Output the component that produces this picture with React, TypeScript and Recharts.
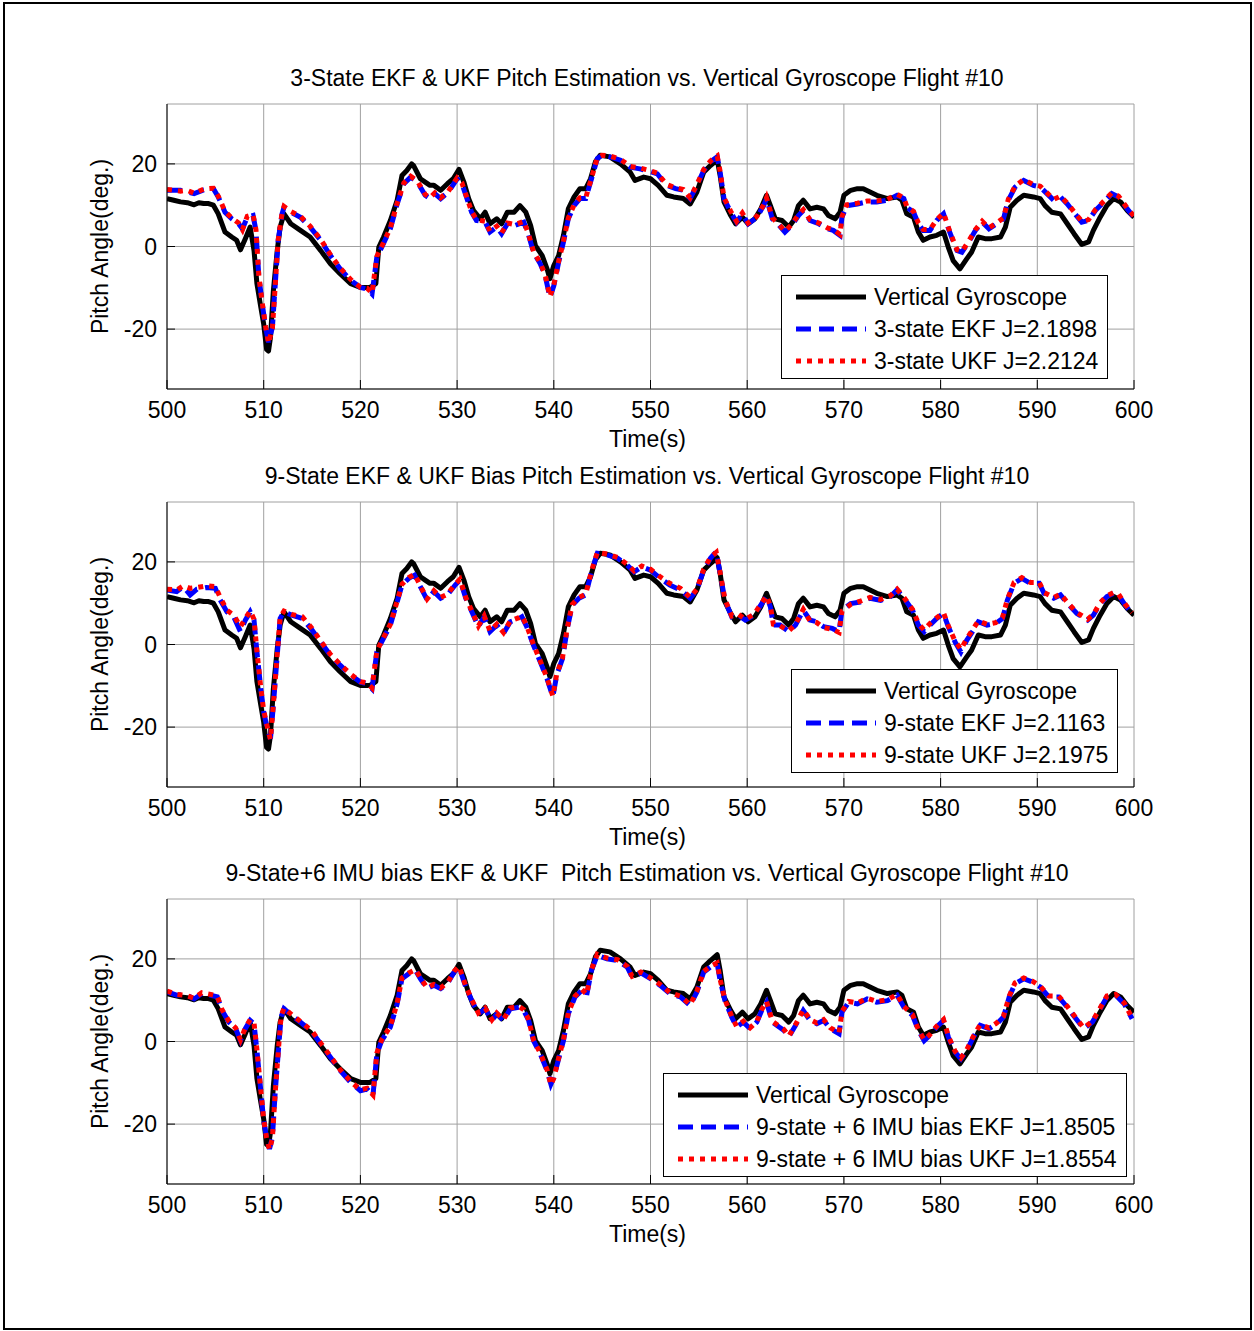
import React from "react";
import { LineChart, Line, XAxis, YAxis, CartesianGrid } from "recharts";

const FONT = '"Liberation Sans", Arial, Helvetica, sans-serif';

const timeTicks = [500, 510, 520, 530, 540, 550, 560, 570, 580, 590, 600];
const pitchTicks = [-20, 0, 20];
const pitchDomain: [number, number] = [-34.5, 34.5];

// vertical gyroscope reference (same trace in all three panels)
const gyroTime = [
  500, 500.7, 501.4, 502.1, 502.8, 503.3, 503.8, 504.3, 504.8, 505.3,
  506.0, 506.7, 507.2, 507.6, 508.1, 508.6, 509.0, 509.3, 509.7, 510.0,
  510.3, 510.5, 510.7, 511.0, 511.4, 511.7, 512.1, 512.8, 513.8, 514.8,
  515.9, 516.9, 517.9, 519.0, 520.0, 521.0, 521.6, 521.9, 522.4, 523.1,
  523.8, 524.3, 524.8, 525.3, 525.5, 526.2, 526.7, 527.2, 527.6, 528.3,
  529.0, 529.6, 530.2, 530.7, 531.2, 531.7, 532.4, 532.9, 533.4, 534.1,
  534.6, 535.2, 535.9, 536.5, 537.1, 537.6, 538.1, 538.8, 539.3, 539.6,
  540.0, 540.5, 541.0, 541.5, 542.1, 542.7, 543.3, 543.8, 544.3, 544.8,
  545.8, 546.9, 547.9, 548.4, 549.3, 550.0, 550.8, 551.7, 552.4, 553.4,
  554.1, 554.8, 555.5, 556.2, 556.9, 557.2, 557.6, 558.3, 558.8, 559.5,
  560.1, 560.8, 561.4, 562.0, 562.4, 562.9, 563.6, 564.3, 564.8, 565.3,
  565.8, 566.5, 567.2, 567.9, 568.4, 569.1, 569.6, 570.0, 570.7, 571.4,
  572.0, 572.7, 573.4, 574.5, 575.5, 576.0, 576.5, 577.2, 577.7, 578.2,
  578.9, 579.6, 580.3, 580.8, 581.3, 582.0, 582.7, 583.2, 583.9, 584.6,
  585.3, 586.2, 586.7, 587.2, 587.9, 588.6, 589.6, 590.3, 590.8, 591.5,
  592.4, 593.1, 593.8, 594.6, 595.3, 595.8, 596.5, 597.2, 597.9, 598.6,
  599.3, 600,
];
const gyroPitch = [
  11.6, 11.2, 10.8, 10.6, 10.1, 10.6, 10.4, 10.4, 10.0, 7.9,
  3.5, 2.3, 1.5, -0.8, 1.9, 4.7, -1.0, -9.0, -14.7, -18.8,
  -24.9, -25.3, -22.0, -10.7, -1.0, 4.7, 7.9, 5.5, 3.9, 2.3,
  -1.0, -4.2, -6.6, -9.0, -9.9, -9.9, -9.0, -0.2, 2.3, 6.3,
  11.2, 17.2, 18.4, 20.0, 19.6, 16.4, 15.6, 14.8, 14.8, 13.6,
  15.2, 16.4, 18.7, 15.6, 11.6, 8.7, 6.7, 8.3, 5.5, 6.7,
  5.5, 8.3, 8.3, 9.9, 8.3, 5.1, 0.2, -2.2, -5.4, -7.8,
  -4.6, -2.2, 2.7, 9.1, 12.0, 14.0, 14.0, 16.4, 20.5, 22.1,
  21.7, 20.0, 18.0, 16.0, 16.8, 16.4, 14.8, 12.4, 12.0, 11.6,
  10.3, 13.2, 18.0, 19.6, 21.0, 17.2, 10.8, 7.5, 5.5, 7.1,
  5.5, 6.7, 9.1, 12.4, 9.9, 6.7, 6.3, 4.7, 6.3, 9.9,
  11.2, 9.1, 9.5, 9.1, 7.5, 6.7, 8.3, 12.4, 13.6, 14.0,
  14.0, 13.2, 12.4, 11.6, 12.0, 11.2, 7.9, 7.1, 3.5, 1.5,
  2.3, 2.7, 3.5, -0.2, -3.4, -5.4, -3.0, -1.4, 2.3, 1.9,
  1.9, 2.3, 4.7, 9.5, 11.2, 12.4, 12.0, 11.6, 9.9, 8.3,
  7.9, 5.5, 3.1, 0.5, 1.1, 3.9, 7.1, 9.9, 11.6, 10.8,
  8.7, 7.1,
];

// panel 1: 3-state filters
const state3Time = [
  500, 501.4, 502.1, 502.8, 503.8, 504.8, 505.3, 506.0, 506.7, 507.4,
  507.8, 508.3, 508.9, 509.2, 509.5, 509.9, 510.2, 510.5, 510.9, 511.2,
  511.5, 511.9, 512.1, 512.8, 513.8, 514.8, 515.9, 516.9, 517.9, 519.0,
  520.0, 520.7, 521.2, 521.7, 522.2, 523.1, 523.8, 524.5, 525.2, 525.9,
  526.7, 527.2, 527.7, 528.3, 529.1, 530.0, 530.5, 530.9, 531.5, 532.0,
  532.9, 533.4, 534.1, 534.6, 535.2, 536.0, 536.9, 537.4, 537.9, 538.6,
  539.1, 539.6, 540.0, 540.5, 541.0, 541.5, 542.1, 542.7, 543.3, 543.8,
  544.5, 545.0, 545.8, 546.9, 547.9, 548.9, 549.6, 550.7, 551.1, 551.7,
  552.6, 553.4, 554.1, 554.8, 555.5, 556.2, 556.9, 557.2, 557.6, 558.3,
  558.9, 559.5, 560.1, 561.0, 561.7, 562.0, 562.6, 563.3, 563.9, 564.6,
  565.3, 565.8, 566.5, 567.4, 568.3, 568.9, 569.6, 569.8, 570.3, 571.4,
  572.4, 573.4, 574.5, 575.5, 576.2, 576.5, 577.2, 577.7, 578.2, 578.9,
  579.6, 580.3, 581.0, 581.7, 582.2, 582.9, 583.6, 584.3, 585.0, 585.8,
  586.5, 587.0, 587.7, 588.6, 589.6, 590.3, 591.0, 591.7, 592.4, 593.1,
  593.9, 594.6, 595.3, 596.0, 596.9, 597.7, 598.4, 599.3, 600,
];
const ekf3Pitch = [
  13.6, 13.6, 13.2, 12.8, 13.7, 14.0, 12.0, 8.3, 6.7, 5.5,
  4.3, 7.1, 7.5, 3.9, -7.4, -14.7, -19.6, -23.2, -19.6, -9.0,
  1.5, 7.9, 9.5, 8.3, 7.1, 4.7, 1.5, -2.2, -5.4, -8.2,
  -9.9, -10.3, -11.5, -2.6, -0.2, 4.3, 10.3, 15.2, 16.8, 15.6,
  12.4, 11.6, 12.8, 11.6, 13.2, 16.4, 15.2, 12.4, 8.3, 6.3,
  5.9, 3.5, 4.7, 3.1, 5.5, 5.1, 5.9, 2.7, -1.4, -4.2,
  -7.0, -12.3, -9.5, -3.8, 1.1, 6.7, 9.9, 11.6, 11.6, 15.6,
  21.3, 22.1, 21.7, 20.9, 19.2, 18.8, 18.4, 17.6, 16.4, 14.8,
  14.0, 13.6, 11.6, 14.8, 18.4, 20.5, 21.7, 18.0, 11.6, 8.3,
  5.9, 7.9, 5.5, 7.1, 9.9, 11.6, 6.7, 5.1, 3.5, 5.1,
  7.5, 8.7, 6.3, 5.5, 4.3, 3.9, 2.7, 7.1, 9.9, 10.3,
  10.8, 10.8, 11.2, 12.4, 11.6, 9.5, 8.3, 5.5, 3.9, 3.9,
  6.3, 7.9, 3.1, -1.0, -1.4, 1.1, 3.9, 5.9, 4.3, 5.5,
  6.7, 11.2, 14.4, 16.0, 14.8, 14.4, 12.8, 11.2, 12.0, 10.3,
  7.9, 5.9, 6.3, 8.7, 10.8, 12.8, 12.0, 9.1, 7.1,
];
const ukf3Pitch = [
  13.8, 13.4, 13.6, 12.9, 13.9, 14.1, 12.2, 8.5, 6.9, 5.7,
  4.1, 7.3, 7.7, 4.1, -7.2, -14.5, -19.4, -23.4, -19.8, -9.2,
  1.7, 8.1, 9.7, 8.5, 7.3, 4.9, 1.7, -2.0, -5.2, -8.0,
  -9.9, -10.1, -11.3, -2.4, 0.0, 4.5, 10.5, 15.4, 17.0, 15.8,
  12.6, 11.8, 13.0, 11.8, 13.4, 16.6, 15.4, 12.6, 8.5, 6.5,
  6.1, 3.7, 4.9, 3.3, 5.7, 5.3, 6.1, 2.9, -1.2, -4.0,
  -6.8, -12.1, -9.3, -3.6, 1.3, 6.9, 10.1, 11.8, 11.8, 15.8,
  21.5, 22.1, 21.9, 21.1, 19.4, 19.0, 18.6, 17.8, 16.6, 15.0,
  14.2, 13.8, 11.8, 15.0, 18.6, 20.7, 21.9, 18.2, 11.8, 8.5,
  6.1, 8.1, 5.7, 7.3, 10.1, 11.8, 6.9, 5.3, 3.7, 5.3,
  7.7, 8.9, 6.5, 5.7, 4.5, 4.1, 2.9, 7.3, 10.1, 10.5,
  11.0, 11.0, 11.4, 12.6, 11.8, 9.7, 8.5, 5.7, 4.1, 4.1,
  6.5, 8.1, 3.3, -0.8, -1.2, 1.3, 4.1, 6.1, 4.5, 5.7,
  6.9, 11.4, 14.6, 16.2, 15.0, 14.6, 13.0, 11.4, 12.2, 10.5,
  8.1, 6.1, 6.5, 8.9, 11.0, 13.0, 12.2, 9.3, 7.3,
];

// panel 2: 9-state filters
const state9Time = [
  500, 501.0, 501.7, 502.4, 503.1, 504.1, 505.0, 505.5, 506.2, 506.9,
  507.6, 508.1, 508.6, 509.0, 509.3, 509.7, 510.0, 510.3, 510.7, 511.0,
  511.4, 511.7, 512.1, 512.9, 514.0, 515.0, 515.9, 516.9, 517.9, 519.0,
  520.0, 520.7, 521.2, 521.7, 522.2, 523.1, 523.8, 524.3, 525.0, 525.6,
  526.2, 526.9, 527.6, 528.3, 529.0, 529.8, 530.3, 530.9, 531.6, 532.2,
  532.8, 533.4, 534.1, 534.8, 535.5, 536.4, 536.7, 537.2, 537.9, 538.6,
  539.3, 539.9, 540.3, 540.9, 541.4, 541.9, 542.6, 543.3, 543.9, 544.5,
  545.5, 546.6, 547.6, 548.3, 549.1, 550.0, 551.0, 552.0, 553.1, 554.1,
  554.8, 555.5, 556.2, 556.8, 557.2, 557.7, 558.4, 559.1, 559.8, 560.7,
  561.4, 562.0, 562.4, 562.7, 563.4, 564.3, 565.0, 565.8, 566.5, 567.2,
  567.9, 568.8, 569.5, 569.8, 570.7, 571.7, 572.7, 573.8, 574.8, 575.5,
  576.2, 577.1, 577.7, 578.3, 578.9, 579.6, 580.3, 580.8, 581.5, 582.1,
  582.7, 583.4, 583.9, 584.8, 585.7, 586.4, 586.9, 587.6, 588.4, 589.3,
  590.2, 590.7, 591.7, 592.4, 593.3, 594.1, 595.2, 595.8, 596.5, 597.2,
  597.9, 598.4, 599.1, 599.8,
];
const ekf9Pitch = [
  13.2, 12.8, 14.0, 12.0, 13.4, 13.8, 13.6, 10.8, 7.9, 6.7,
  3.1, 5.9, 7.9, 5.9, -1.8, -10.7, -16.3, -19.6, -22.8, -14.7,
  -2.6, 6.3, 7.9, 7.1, 6.3, 3.5, 0.6, -2.6, -5.0, -7.4,
  -9.1, -9.5, -10.7, -1.8, 0.6, 4.7, 10.3, 14.4, 16.0, 16.8,
  14.0, 10.8, 12.8, 11.2, 12.0, 14.4, 15.6, 11.2, 7.5, 4.3,
  6.7, 3.1, 4.7, 2.7, 5.5, 6.3, 6.7, 4.3, -0.2, -4.2,
  -8.3, -12.7, -7.4, -3.4, 3.9, 9.5, 11.2, 12.0, 17.6, 22.1,
  21.7, 20.9, 19.2, 17.6, 18.8, 18.0, 16.0, 14.4, 13.2, 11.2,
  13.2, 18.0, 20.9, 22.5, 17.2, 10.7, 6.7, 7.1, 5.9, 7.1,
  9.5, 11.6, 9.1, 4.7, 4.7, 3.1, 4.7, 8.3, 5.9, 5.5,
  4.3, 3.9, 3.1, 8.3, 9.9, 10.3, 11.2, 10.7, 11.6, 13.2,
  11.2, 8.3, 4.7, 3.1, 4.7, 6.3, 7.5, 4.3, 0.6, -1.8,
  1.0, 3.5, 5.5, 4.7, 5.1, 6.3, 10.7, 14.8, 16.0, 14.8,
  14.8, 12.4, 11.2, 12.0, 9.5, 7.5, 5.9, 7.1, 9.9, 11.6,
  12.4, 12.0, 9.5, 7.5,
];
const ukf9Pitch = [
  13.4, 13.2, 14.2, 13.6, 13.8, 14.2, 14.0, 11.4, 8.3, 7.1,
  4.3, 6.3, 8.1, 6.1, -1.6, -10.5, -16.0, -19.2, -23.0, -14.5,
  -2.4, 6.5, 8.1, 7.3, 6.7, 3.9, 0.8, -2.4, -4.8, -7.2,
  -9.0, -9.3, -10.5, -1.6, 0.8, 4.9, 10.5, 14.6, 16.2, 17.0,
  14.2, 11.0, 13.0, 11.4, 12.2, 14.6, 15.8, 11.4, 7.7, 4.5,
  6.9, 3.3, 4.9, 2.9, 5.7, 6.5, 6.9, 4.5, 0.0, -4.0,
  -8.1, -12.5, -7.2, -3.2, 4.1, 9.7, 11.4, 12.2, 17.8, 22.3,
  21.9, 21.1, 19.4, 17.8, 19.0, 18.2, 16.4, 14.8, 13.6, 11.4,
  13.4, 18.2, 21.1, 22.3, 17.4, 10.9, 6.9, 7.3, 6.1, 7.3,
  9.7, 11.8, 9.3, 4.9, 4.5, 3.3, 4.9, 8.5, 5.7, 5.3,
  4.1, 3.7, 2.9, 8.1, 9.7, 10.5, 11.4, 10.9, 11.8, 13.4,
  11.4, 8.5, 5.1, 3.5, 5.1, 6.5, 7.7, 4.5, 0.8, -1.2,
  1.4, 3.9, 5.7, 4.9, 5.3, 6.5, 10.9, 15.0, 16.2, 15.0,
  15.0, 12.6, 11.4, 12.2, 9.7, 7.7, 6.1, 7.3, 10.1, 11.8,
  12.6, 12.2, 9.7, 7.7,
];

// panel 3: 9-state + 6 IMU bias filters
const state15Time = [
  500, 501.0, 501.9, 502.8, 503.6, 504.5, 505.2, 505.7, 506.4, 507.1,
  507.6, 508.1, 508.6, 509.0, 509.3, 509.7, 510.0, 510.3, 510.6, 510.9,
  511.2, 511.6, 511.8, 512.1, 512.9, 514.0, 515.0, 515.9, 516.9, 517.9,
  519.0, 520.0, 520.7, 521.3, 521.7, 522.2, 523.1, 523.8, 524.3, 525.0,
  525.7, 526.2, 526.9, 527.6, 528.3, 529.0, 529.7, 530.2, 530.9, 531.6,
  532.2, 532.9, 533.6, 534.1, 534.8, 535.5, 536.4, 536.9, 537.4, 537.9,
  538.6, 539.3, 539.7, 540.0, 540.5, 541.0, 541.5, 542.2, 542.9, 543.4,
  543.9, 544.5, 545.5, 546.6, 547.6, 548.1, 549.0, 550.0, 551.0, 552.0,
  553.1, 554.1, 554.8, 555.5, 556.2, 556.9, 557.2, 557.7, 558.4, 558.9,
  559.6, 560.3, 561.0, 561.5, 562.0, 562.6, 563.3, 563.8, 564.3, 565.0,
  565.8, 566.5, 567.2, 567.9, 568.6, 569.5, 569.8, 570.5, 571.4, 572.4,
  573.4, 574.5, 575.5, 576.2, 577.1, 577.7, 578.3, 578.9, 579.6, 580.3,
  580.8, 581.5, 582.1, 582.7, 583.4, 584.1, 585.0, 585.8, 586.5, 587.1,
  587.7, 588.6, 589.5, 590.3, 591.2, 592.2, 593.1, 594.0, 594.8, 595.7,
  596.5, 597.2, 598.1, 599.0, 599.8,
];
const ekf15Pitch = [
  12.0, 11.2, 11.4, 10.3, 11.6, 11.2, 10.8, 7.5, 4.7, 3.1,
  0.2, 3.1, 5.1, 4.3, -2.2, -11.9, -19.2, -23.2, -26.0, -23.2,
  -11.9, 0.2, 5.9, 7.9, 6.3, 4.3, 2.3, -0.6, -3.8, -7.0,
  -9.9, -11.9, -11.5, -13.1, -3.0, 0.2, 3.5, 9.1, 15.2, 16.4,
  17.2, 15.2, 12.8, 13.6, 12.8, 14.0, 16.8, 18.0, 13.2, 9.5,
  6.7, 7.9, 5.1, 6.7, 5.1, 7.9, 8.3, 7.5, 5.1, 0.2,
  -3.0, -7.0, -10.3, -8.7, -4.2, 0.2, 6.7, 10.8, 12.4, 11.2,
  17.2, 20.9, 20.0, 19.6, 18.0, 15.6, 16.6, 15.2, 13.6, 11.6,
  10.8, 8.7, 12.0, 16.8, 18.0, 18.8, 14.8, 9.9, 5.9, 3.5,
  4.7, 3.1, 4.7, 7.5, 9.5, 4.7, 3.5, 2.7, 1.1, 3.9,
  7.5, 5.1, 4.3, 5.1, 3.1, 1.9, 7.1, 9.5, 9.1, 10.3,
  9.5, 9.9, 11.2, 8.3, 6.3, 2.7, 0.2, 1.5, 3.5, 5.1,
  1.1, -2.6, -4.2, -2.2, 1.1, 3.9, 3.1, 4.3, 5.9, 10.8,
  14.0, 15.2, 14.4, 13.2, 10.8, 10.8, 8.3, 5.5, 3.1, 4.7,
  7.9, 10.8, 11.2, 9.1, 5.5,
];
const ukf15Pitch = [
  12.2, 11.4, 11.2, 10.5, 11.8, 11.4, 11.0, 7.7, 4.9, 3.3,
  0.4, 3.3, 5.3, 4.5, -2.0, -11.7, -19.0, -23.4, -26.2, -23.4,
  -12.1, 0.4, 6.1, 8.1, 6.5, 4.5, 2.5, -0.4, -3.6, -6.8,
  -9.7, -11.7, -11.3, -12.9, -2.8, 0.4, 3.7, 9.3, 15.4, 16.6,
  17.4, 15.4, 13.0, 13.8, 13.0, 14.2, 17.0, 18.2, 13.4, 9.7,
  6.9, 8.1, 5.3, 6.9, 5.3, 8.1, 8.5, 7.7, 5.3, 0.4,
  -2.8, -6.8, -10.5, -8.9, -4.0, 0.4, 6.9, 11.0, 12.6, 11.4,
  17.4, 21.1, 20.2, 19.8, 18.2, 15.8, 16.8, 15.4, 13.8, 11.8,
  11.0, 8.9, 12.2, 17.0, 18.2, 19.0, 15.0, 10.1, 6.1, 3.7,
  4.9, 3.3, 4.9, 7.7, 9.7, 4.9, 3.7, 2.9, 1.3, 4.1,
  7.7, 5.3, 4.5, 5.3, 3.3, 2.1, 7.3, 9.7, 9.3, 10.5,
  9.7, 10.1, 11.4, 8.5, 6.5, 2.9, 0.4, 1.7, 3.7, 5.3,
  1.3, -2.4, -4.0, -2.0, 1.3, 4.1, 3.3, 4.5, 6.1, 11.0,
  14.2, 15.4, 14.6, 13.4, 11.0, 11.0, 8.5, 5.7, 3.3, 4.9,
  8.1, 11.0, 11.4, 9.3, 5.7,
];

const panelTitles = [
  "3-State EKF & UKF Pitch Estimation vs. Vertical Gyroscope Flight #10",
  "9-State EKF & UKF Bias Pitch Estimation vs. Vertical Gyroscope Flight #10",
  "9-State+6 IMU bias EKF & UKF  Pitch Estimation vs. Vertical Gyroscope Flight #10",
];
const gyroName = "Vertical Gyroscope";
const ekfNames = ["3-state EKF J=2.1898", "9-state EKF J=2.1163", "9-state + 6 IMU bias EKF J=1.8505"];
const ukfNames = ["3-state UKF J=2.2124", "9-state UKF J=2.1975", "9-state + 6 IMU bias UKF J=1.8554"];

const GYRO = { stroke: "#000000", dash: undefined as string | undefined };
const EKF = { stroke: "#0000ff", dash: "15 8" };
const UKF = { stroke: "#ff0000", dash: "5 6" };
const LINE_W = 5;

const toPoints = (time: number[], pitch: number[]) =>
  time.map((t, i) => ({ t, pitch: pitch[i] }));

const gyroPoints = toPoints(gyroTime, gyroPitch);

type PanelProps = {
  top: number;
  title: string;
  time: number[];
  ekf: number[];
  ukf: number[];
  ekfName: string;
  ukfName: string;
  legendLeft: number;
  legendTop: number;
};

const textStyle = { fill: "#000", fontSize: 23, fontFamily: FONT };

function LegendBox({ left, top, items }: { left: number; top: number; items: { name: string; stroke: string; dash?: string }[] }) {
  return (
    <div
      style={{
        position: "absolute",
        left,
        top,
        border: "1px solid #000",
        background: "#fff",
        padding: "5px 9px 1px 14px",
        fontFamily: FONT,
        fontSize: 23,
        whiteSpace: "nowrap",
      }}
    >
      {items.map((it) => (
        <div key={it.name} style={{ display: "flex", alignItems: "center", height: 32 }}>
          <svg width={70} height={10} style={{ marginRight: 8, flex: "none" }}>
            <line x1={0} y1={5} x2={70} y2={5} stroke={it.stroke} strokeWidth={LINE_W} strokeDasharray={it.dash} />
          </svg>
          <span>{it.name}</span>
        </div>
      ))}
    </div>
  );
}

function PitchPanel(p: PanelProps) {
  return (
    <div style={{ position: "absolute", left: 0, top: p.top, width: 1254, height: 460 }}>
      <div
        style={{
          position: "absolute",
          left: 0,
          top: 65,
          width: 1294,
          textAlign: "center",
          fontFamily: FONT,
          fontSize: 23,
          lineHeight: "26px",
          whiteSpace: "pre",
          color: "#000",
        }}
      >
        {p.title}
      </div>
      <LineChart width={1254} height={460} margin={{ top: 104, right: 120, bottom: 31, left: 0 }}>
        <CartesianGrid stroke="#a0a0a0" strokeWidth={1} />
        <XAxis
          dataKey="t"
          type="number"
          domain={[500, 600]}
          ticks={timeTicks}
          allowDataOverflow
          height={40}
          tickSize={-9}
          tickMargin={22}
          stroke="#000"
          tick={textStyle}
          label={{ value: "Time(s)", position: "bottom", offset: 2, dx: -3, ...textStyle }}
        />
        <XAxis
          xAxisId="top"
          orientation="top"
          dataKey="t"
          type="number"
          domain={[500, 600]}
          ticks={timeTicks}
          height={0}
          tickSize={-9}
          tickFormatter={() => ""}
          stroke="#000"
        />
        <YAxis
          type="number"
          domain={pitchDomain}
          ticks={pitchTicks}
          allowDataOverflow
          width={167}
          tickSize={-8}
          tickMargin={18}
          stroke="#000"
          tick={textStyle}
          label={{
            value: "Pitch Angle(deg.)",
            angle: -90,
            position: "insideLeft",
            offset: 100,
            ...textStyle,
            style: { textAnchor: "middle" },
          }}
        />
        <YAxis
          yAxisId="right"
          orientation="right"
          type="number"
          domain={pitchDomain}
          ticks={pitchTicks}
          width={0}
          tickSize={-8}
          tickFormatter={() => ""}
          stroke="#000"
        />
        <Line
          data={gyroPoints}
          dataKey="pitch"
          type="linear"
          stroke={GYRO.stroke}
          strokeWidth={LINE_W}
          strokeLinejoin="round"
          dot={false}
          isAnimationActive={false}
        />
        <Line
          data={toPoints(p.time, p.ekf)}
          dataKey="pitch"
          type="linear"
          stroke={EKF.stroke}
          strokeWidth={LINE_W}
          strokeDasharray={EKF.dash}
          dot={false}
          isAnimationActive={false}
        />
        <Line
          data={toPoints(p.time, p.ukf)}
          dataKey="pitch"
          type="linear"
          stroke={UKF.stroke}
          strokeWidth={LINE_W}
          strokeDasharray={UKF.dash}
          dot={false}
          isAnimationActive={false}
        />
      </LineChart>
      <LegendBox
        left={p.legendLeft}
        top={p.legendTop}
        items={[
          { name: gyroName, ...GYRO },
          { name: p.ekfName, ...EKF },
          { name: p.ukfName, ...UKF },
        ]}
      />
    </div>
  );
}

export default function App() {
  return (
    <div style={{ position: "absolute", left: 0, top: 0, width: 1254, height: 1331, background: "#fff", fontFamily: FONT }}>
      <div
        style={{
          position: "absolute",
          left: 3,
          top: 2,
          width: 1249,
          height: 1328,
          boxSizing: "border-box",
          border: "2px solid #000",
        }}
      />
      <PitchPanel
        top={0}
        title={panelTitles[0]}
        time={state3Time}
        ekf={ekf3Pitch}
        ukf={ukf3Pitch}
        ekfName={ekfNames[0]}
        ukfName={ukfNames[0]}
        legendLeft={781}
        legendTop={275}
      />
      <PitchPanel
        top={398}
        title={panelTitles[1]}
        time={state9Time}
        ekf={ekf9Pitch}
        ukf={ukf9Pitch}
        ekfName={ekfNames[1]}
        ukfName={ukfNames[1]}
        legendLeft={791}
        legendTop={271}
      />
      <PitchPanel
        top={795}
        title={panelTitles[2]}
        time={state15Time}
        ekf={ekf15Pitch}
        ukf={ukf15Pitch}
        ekfName={ekfNames[2]}
        ukfName={ukfNames[2]}
        legendLeft={663}
        legendTop={278}
      />
    </div>
  );
}
